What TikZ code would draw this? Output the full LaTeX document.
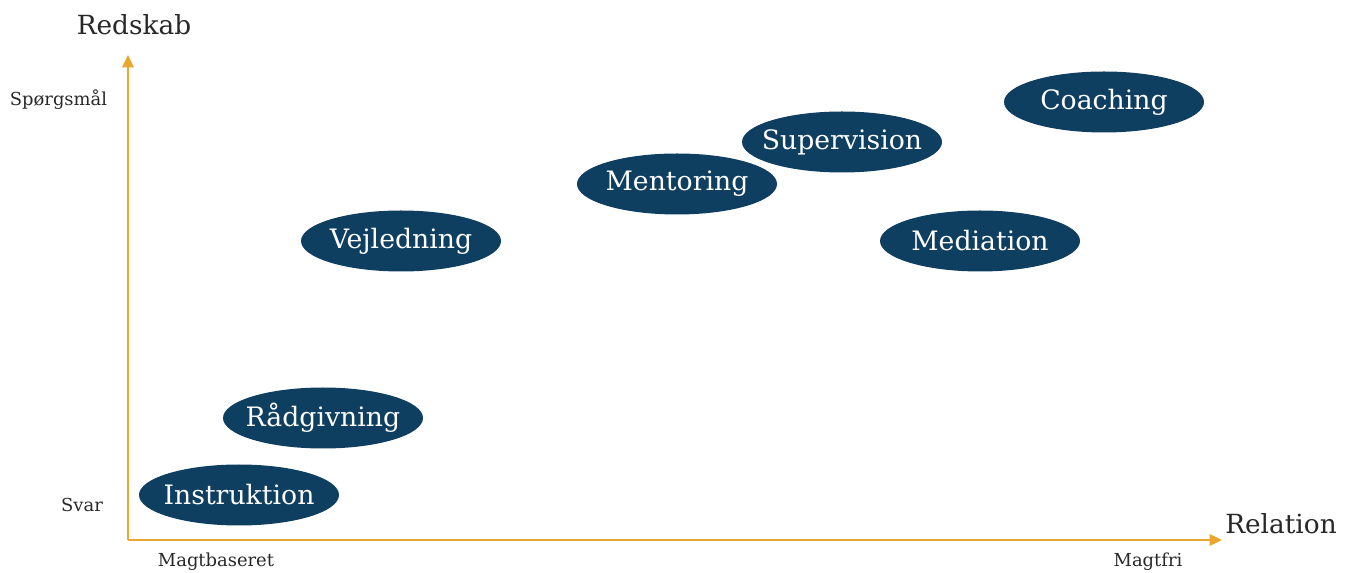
\documentclass[tikz,border=0pt]{standalone}
\usepackage{fontspec}
\setmainfont{DejaVu Serif}
\usepackage{xcolor}
\usepackage{tikz}
\usetikzlibrary{shapes.geometric, arrows.meta, positioning}
\definecolor{formnavy}{RGB}{14,62,96}
\definecolor{axisorange}{RGB}{233,166,48}
\definecolor{labelgray}{RGB}{40,40,40}
% keep the ellipse size fixed whatever the text width
\newcommand{\formtext}[1]{\makebox[0pt]{#1}}
\tikzset{
  form/.style={
    ellipse, minimum width=4cm, minimum height=1.22cm, inner sep=0pt,
    fill=formnavy, text=white, font=\fontsize{15.2}{17}\selectfont
  },
  axistitle/.style={font=\fontsize{15}{17}\selectfont, text=labelgray},
  axislabel/.style={font=\fontsize{10.2}{12}\selectfont, text=labelgray},
  axisline/.style={-{Triangle[length=7pt, width=6.5pt]}, line width=1.1pt, color=axisorange}
}

\begin{document}
\begin{tikzpicture}
  \useasboundingbox (0,0) rectangle (26.96,11.46);

  % Axes
  \coordinate (origin) at (2.56,0.66);
  \coordinate (ytip) at (2.56,10.36);
  \coordinate (xtip) at (24.44,0.66);
  \draw[axisline] (origin) -- (ytip);
  \draw[axisline] (origin) -- (xtip);

  % Axis titles and end labels
  \node[axistitle] (redskab) at (2.68,10.96) {Redskab};
  \node[axistitle] (relation) at (25.62,0.98) {Relation};
  \node[axislabel] (spm) at (1.17,9.46) {Spørgsmål};
  \node[axislabel] (svar) at (1.64,1.36) {Svar};
  \node[axislabel] (magtbas) at (4.32,0.22) {Magtbaseret};
  \node[axislabel] (magtfri) at (22.96,0.22) {Magtfri};

  % Forms
  \node[form] (instruktion) at (4.78,1.56) {\formtext{Instruktion}};
  \node[form] (raadgivning) at (6.46,3.10) {\formtext{Rådgivning}};
  \node[form] (vejledning) at (8.02,6.64) {\formtext{Vejledning}};
  \node[form] (mentoring) at (13.54,7.78) {\formtext{Mentoring}};
  \node[form] (supervision) at (16.84,8.62) {\formtext{Supervision}};
  \node[form] (mediation) at (19.60,6.64) {\formtext{Mediation}};
  \node[form] (coaching) at (22.08,9.42) {\formtext{Coaching}};
\end{tikzpicture}
\end{document}
